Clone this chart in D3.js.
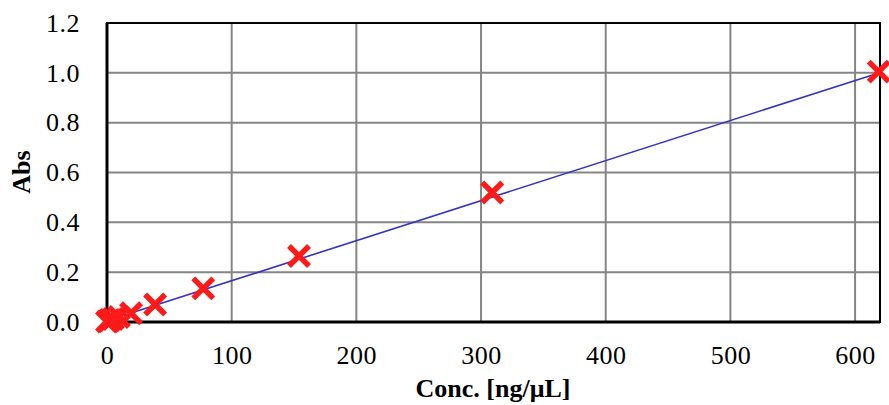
<!DOCTYPE html>
<html>
<head>
<meta charset="utf-8">
<script src="https://cdn.jsdelivr.net/npm/d3@7"></script>
<style>
  body { margin: 0; background: #fff; }
  svg { display: block; }
</style>
</head>
<body>
<svg width="889" height="405"></svg>
<script>
// standard curve data
var conc = [0, 1.2, 2.4, 4.8, 9.6, 19.3, 38.6, 77.2, 154, 309, 619];
var abs  = [0.002, 0.004, 0.008, 0.012, 0.02, 0.035, 0.07, 0.135, 0.265, 0.52, 1.005];
var xTicks = [0, 100, 200, 300, 400, 500, 600];
var yTicks = [0, 0.2, 0.4, 0.6, 0.8, 1.0, 1.2];
var fitSlope = 0.001607;
var fitIntercept = 0.005;

var serif = "'Liberation Serif', 'Times New Roman', serif";
var svg = d3.select("svg");
var pL = 107, pT = 23, pR = 880, pB = 322;

var x = d3.scaleLinear().domain([0, 620]).range([pL, pR]);
var y = d3.scaleLinear().domain([0, 1.2]).range([pB, pT]);

// grid
svg.selectAll(".gx")
    .data(xTicks.slice(1))
    .enter().append("line")
    .attr("x1", function(d){ return x(d); })
    .attr("x2", function(d){ return x(d); })
    .attr("y1", pT).attr("y2", pB)
    .style("stroke", "#858585").style("stroke-width", 2);
svg.selectAll(".gy")
    .data(yTicks.slice(1))
    .enter().append("line")
    .attr("x1", pL).attr("x2", pR)
    .attr("y1", function(d){ return y(d); })
    .attr("y2", function(d){ return y(d); })
    .style("stroke", "#858585").style("stroke-width", 2);

// frame
svg.append("rect")
    .attr("x", pL).attr("y", pT)
    .attr("width", pR - pL).attr("height", pB - pT)
    .style("fill", "none").style("stroke", "#000").style("stroke-width", 2);
svg.append("line").attr("x1", pL).attr("x2", pR).attr("y1", pB).attr("y2", pB)
    .style("stroke", "#000").style("stroke-width", 3);
svg.append("line").attr("x1", pL).attr("x2", pL).attr("y1", pT).attr("y2", pB)
    .style("stroke", "#000").style("stroke-width", 3);

// tick labels
var xAxis = svg.append("g").attr("transform", "translate(0," + (pB + 33) + ")")
    .call(d3.axisBottom(x).tickValues(xTicks).tickSize(0).tickFormat(d3.format("d")));
xAxis.select(".domain").remove();
xAxis.selectAll("text").attr("y", 0).attr("dy", "0.35em")
    .style("font-family", serif).style("font-size", "26px")
    .style("letter-spacing", "0.5px").style("fill", "#000");

var yAxis = svg.append("g").attr("transform", "translate(" + (pL - 27) + ",0)")
    .call(d3.axisLeft(y).tickValues(yTicks).tickSize(0).tickFormat(d3.format(".1f")));
yAxis.select(".domain").remove();
yAxis.selectAll("text").attr("x", 0)
    .style("font-family", serif).style("font-size", "26px")
    .style("letter-spacing", "0.5px").style("fill", "#000");

// trend line
svg.append("line")
    .attr("x1", x(conc[0])).attr("y1", y(fitIntercept + fitSlope * conc[0]))
    .attr("x2", x(conc[conc.length - 1])).attr("y2", y(fitIntercept + fitSlope * conc[conc.length - 1]))
    .style("stroke", "#3333cc").style("stroke-width", 1.6);

// markers
var s = 10;
svg.selectAll(".pt")
    .data(d3.zip(conc, abs))
    .enter().append("path")
    .attr("d", function(d){
        var cx = x(d[0]), cy = y(d[1]);
        return "M" + (cx - s) + "," + (cy - s) + "L" + (cx + s) + "," + (cy + s) +
               "M" + (cx - s) + "," + (cy + s) + "L" + (cx + s) + "," + (cy - s);
    })
    .style("stroke", "#ff1a1a").style("stroke-width", 5.5).style("fill", "none");

// titles
svg.append("text")
    .attr("x", 493).attr("y", 397)
    .attr("text-anchor", "middle")
    .style("font-family", serif)
    .style("font-size", "26px").style("font-weight", "bold")
    .text("Conc. [ng/μL]");
svg.append("text")
    .attr("transform", "translate(30,172) rotate(-90)")
    .attr("text-anchor", "middle")
    .style("font-family", serif)
    .style("font-size", "26px").style("font-weight", "bold")
    .text("Abs");
</script>
</body>
</html>
